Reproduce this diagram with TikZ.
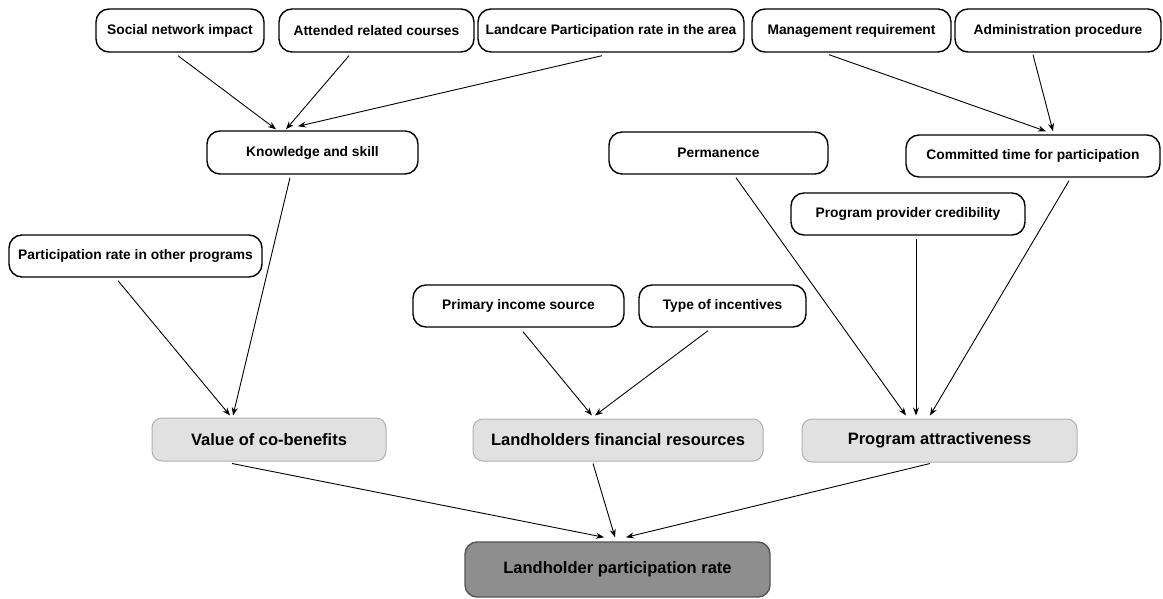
\documentclass[tikz,border=0pt]{standalone}
\usepackage{fontspec}
\setmainfont{Liberation Sans}
\usetikzlibrary{arrows.meta,calc}
\definecolor{grayfill}{HTML}{E1E1E1}
\definecolor{grayline}{HTML}{B0B0B0}
\definecolor{darkfill}{HTML}{8E8E8E}
\definecolor{darkline}{HTML}{555555}
\begin{document}
\begin{tikzpicture}[x=0.5pt,y=-0.5pt,
  factor/.style={draw=black,line width=0.7pt,rounded corners=6.5pt,fill=white,
    inner sep=0pt,anchor=center,font=\fontsize{6.9}{8}\selectfont\bfseries},
  mid/.style={draw=grayline,line width=0.5pt,rounded corners=5pt,fill=grayfill,
    inner sep=0pt,anchor=center,font=\fontsize{8.25}{10}\selectfont\bfseries},
  outcome/.style={draw=darkline,line width=0.7pt,rounded corners=6pt,fill=darkfill,
    inner sep=0pt,anchor=center,font=\fontsize{8.25}{10}\selectfont\bfseries},
  arr/.style={-{Stealth[length=4pt,width=3pt]},line width=0.45pt,black}]
\useasboundingbox (0,0) rectangle (1163,599);
% top row
\node[factor,minimum width=84pt,minimum height=21.5pt] (social) at (180,30.5) {Social network impact};
\node[factor,minimum width=97.5pt,minimum height=21.5pt] (attended) at (376.5,30.5) {Attended related courses};
\node[factor,minimum width=133pt,minimum height=21.5pt] (landcare) at (611,30.5) {Landcare Participation rate in the area};
\node[factor,minimum width=99.5pt,minimum height=21.5pt] (mgmt) at (851.5,30.5) {Management requirement};
\node[factor,minimum width=103pt,minimum height=21.5pt] (admin) at (1058,30.5) {Administration procedure};
% second row
\node[factor,minimum width=105.5pt,minimum height=21.5pt] (knowledge) at (312.5,152.5) {Knowledge and skill};
\node[factor,minimum width=109.5pt,minimum height=21pt] (permanence) at (718.5,153) {Permanence};
\node[factor,minimum width=127pt,minimum height=21pt] (committed) at (1033,156) {Committed time for participation};
\node[factor,minimum width=117pt,minimum height=21pt] (credibility) at (908,214) {Program provider credibility};
\node[factor,minimum width=126.5pt,minimum height=21pt] (otherprog) at (135.5,256) {Participation rate in other programs};
\node[factor,minimum width=105.5pt,minimum height=21pt] (primary) at (518.5,306) {Primary income source};
\node[factor,minimum width=83.5pt,minimum height=21pt] (incentives) at (722.5,306) {Type of incentives};
% grey row
\node[mid,minimum width=117pt,minimum height=21.5pt] (value) at (269,439.5) {Value of co-benefits};
\node[mid,minimum width=145pt,minimum height=21pt] (financial) at (618,440) {Landholders financial resources};
\node[mid,minimum width=137.5pt,minimum height=21.5pt] (attract) at (939.5,440.5) {Program attractiveness};
% outcome
\node[outcome,minimum width=152.5pt,minimum height=27.5pt] (landholder) at (617.5,569.5) {Landholder participation rate};
% connectors
\draw[arr] ($(social.south)+(-2,3)$) -- ($(knowledge.north)+(-36.5,-1)$);
\draw[arr] ($(attended.south)+(-27.5,3)$) -- ($(knowledge.north)+(-26.5,-1)$);
\draw[arr] ($(landcare.south)+(-9,3)$) -- ($(knowledge.north)+(-14.5,-4)$);
\draw[arr] ($(mgmt.south)+(-22.5,2)$) -- ($(committed.north)+(13,-3)$);
\draw[arr] ($(admin.south)+(-25,2)$) -- ($(committed.north)+(20,-3)$);
\draw[arr] ($(knowledge.south)+(-22.5,3)$) -- ($(value.north)+(-36,-2)$);
\draw[arr] ($(otherprog.south)+(-17.5,3)$) -- ($(value.north)+(-39,-2)$);
\draw[arr] ($(primary.south)+(4.5,4)$) -- ($(financial.north)+(-26,-3)$);
\draw[arr] ($(incentives.south)+(-14.5,3)$) -- ($(financial.north)+(-23,-3)$);
\draw[arr] ($(permanence.south)+(17.5,3)$) -- ($(attract.north)+(-33.5,-3)$);
\draw[arr] ($(credibility.south)+(8,3)$) -- ($(attract.north)+(-23.5,-3)$);
\draw[arr] ($(committed.south)+(36,3)$) -- ($(attract.north)+(-9.5,-3)$);
\draw[arr] ($(value.south)+(-37,2)$) -- ($(landholder.north)+(-13.5,-4)$);
\draw[arr] ($(financial.south)+(-25,2)$) -- ($(landholder.north)+(-2.5,-4)$);
\draw[arr] ($(attract.south)+(-9.5,1)$) -- ($(landholder.north)+(8.5,-4)$);
\end{tikzpicture}
\end{document}
